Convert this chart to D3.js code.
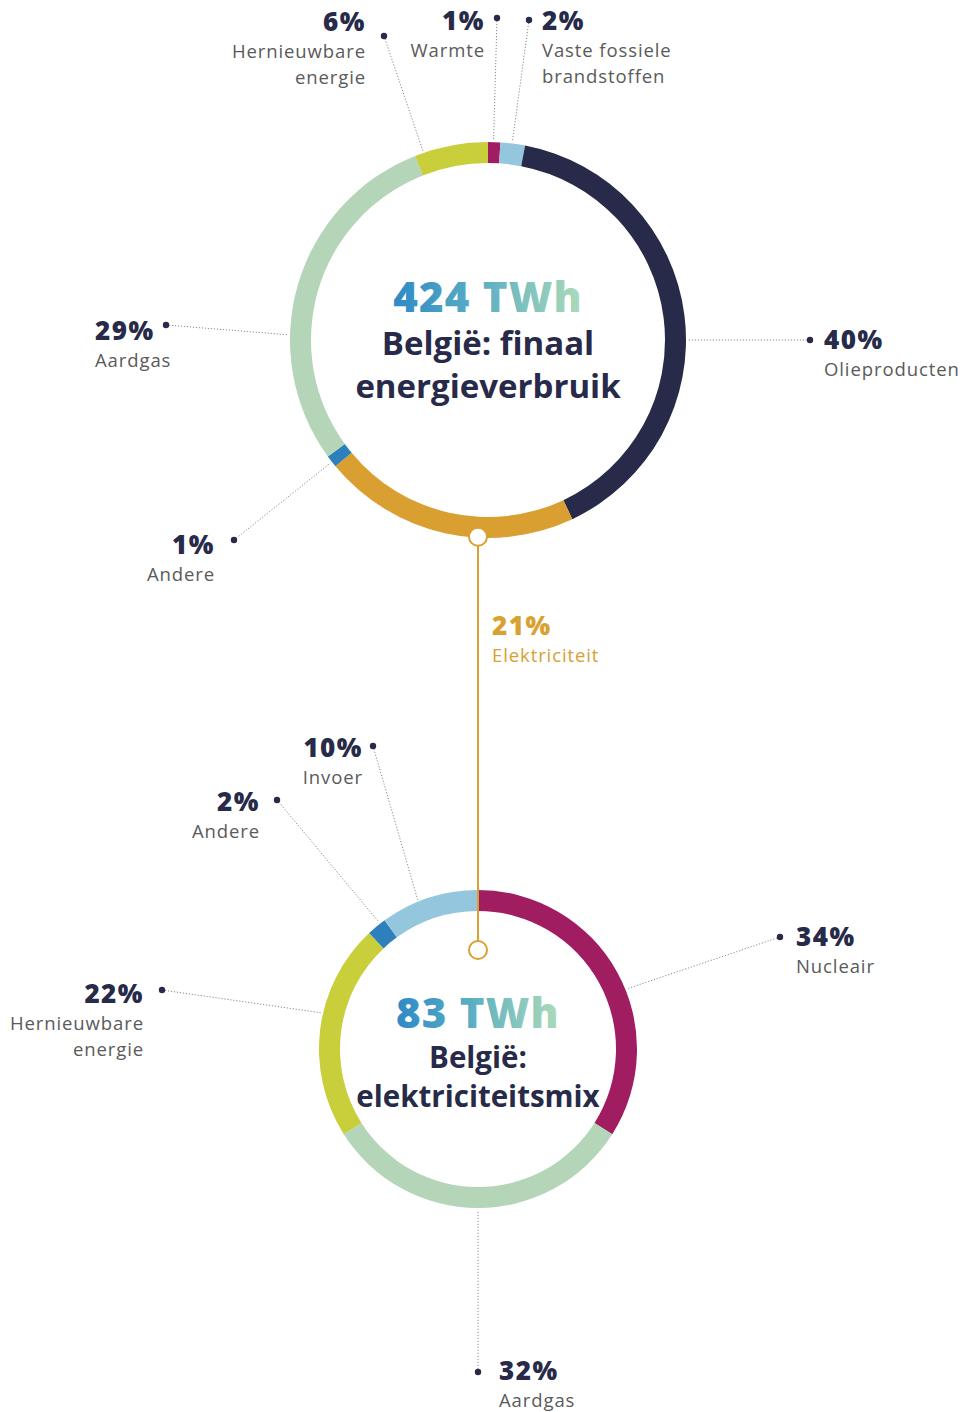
<!DOCTYPE html>
<html><head><meta charset="utf-8">
<script src="https://cdn.jsdelivr.net/npm/d3@7"></script>
<style>
html,body{margin:0;padding:0;background:#fff;}
svg{display:block;font-family:"Open Sans",Lato,sans-serif;}
</style></head>
<body>
<svg id="chart" width="967" height="1412"></svg>
<script>
// ---- data ----
const topCategories = ["Warmte","Vaste fossiele brandstoffen","Olieproducten","Elektriciteit","Andere","Aardgas","Hernieuwbare energie"];
const topValues = [1,2,40,21,1,29,6];
const topTotal = "424 TWh";
const topTitle = ["België: finaal","energieverbruik"];

const bottomCategories = ["Nucleair","Aardgas","Hernieuwbare energie","Andere","Invoer"];
const bottomValues = [34,32,22,2,10];
const bottomTotal = "83 TWh";
const bottomTitle = ["België:","elektriciteitsmix"];

// ---- styling / layout ----
const colorMap = {
  "Warmte":"#a11d62","Vaste fossiele brandstoffen":"#94c7dd","Olieproducten":"#272a48",
  "Elektriciteit":"#d99f31","Andere":"#2e80bd","Aardgas":"#b4d5b8",
  "Hernieuwbare energie":"#c8cf3a","Nucleair":"#a11d62","Invoer":"#94c7dd"
};
const navy = "#272a48", gray = "#5a5a5a", orange = "#d9a032";
const pctStyle = {size:26, ls:1.5}, lblStyle = {size:18.5, ls:0.9};

const svg = d3.select("#chart");
const defs = svg.append("defs");
const grad = defs.append("linearGradient").attr("id","twh").attr("x1","0%").attr("x2","100%");
grad.append("stop").attr("offset","0%").attr("stop-color","#2e8ac6");
grad.append("stop").attr("offset","45%").attr("stop-color","#5aaec3");
grad.append("stop").attr("offset","100%").attr("stop-color","#addab8");

const charts = [
  {cats:topCategories, vals:topValues, cx:488, cy:340, ro:198, ri:177, total:topTotal, title:topTitle,
   totalY:312, titleY:[355,398], totalSize:42, titleSize:33,
   labels:[
     {i:6, dot:[384,36], ang:341, anchor:"end", tx:366, ty:31, lines:["Hernieuwbare","energie"]},
     {i:0, dot:[497,18], ang:1.6, anchor:"end", tx:485, ty:30, lines:["Warmte"]},
     {i:1, dot:[529,20], ang:7, anchor:"start", tx:542, ty:30, lines:["Vaste fossiele","brandstoffen"]},
     {i:2, dot:[810,340], ang:90, anchor:"start", tx:824, ty:349, lines:["Olieproducten"]},
     {i:5, dot:[166,325], ang:271.5, anchor:"start", tx:95, ty:340, lines:["Aardgas"]},
     {i:4, dot:[234,540], ang:232, anchor:"end", tx:215, ty:554, lines:["Andere"]}
   ]},
  {cats:bottomCategories, vals:bottomValues, cx:478, cy:1049, ro:159, ri:138, total:bottomTotal, title:bottomTitle,
   totalY:1028, titleY:[1068,1107], totalSize:42, titleSize:29.5,
   labels:[
     {i:4, dot:[373,746], ang:338, anchor:"end", tx:363, ty:757, lines:["Invoer"]},
     {i:3, dot:[277,800], ang:322, anchor:"end", tx:260, ty:811, lines:["Andere"]},
     {i:2, dot:[162,990], ang:283, anchor:"end", tx:144, ty:1003, lines:["Hernieuwbare","energie"]},
     {i:0, dot:[780,937], ang:68, anchor:"start", tx:796, ty:946, lines:["Nucleair"]},
     {i:1, dot:[478,1372], ang:180, anchor:"start", tx:499, ty:1380, lines:["Aardgas"]}
   ]}
];

const pie = d3.pie().sort(null).value(d=>d);

charts.forEach(c=>{
  const g = svg.append("g");
  c.labels.forEach(l=>{
    const a = l.ang*Math.PI/180;
    const ex = c.cx + (c.ro+2)*Math.sin(a), ey = c.cy - (c.ro+2)*Math.cos(a);
    g.append("line").attr("x1",l.dot[0]).attr("y1",l.dot[1]).attr("x2",ex).attr("y2",ey)
      .attr("stroke","#8a8a8a").attr("stroke-width",1).attr("stroke-dasharray","1.2,1.8");
    g.append("circle").attr("cx",l.dot[0]).attr("cy",l.dot[1]).attr("r",3.2).attr("fill",navy);
    g.append("text").attr("text-anchor",l.anchor).attr("x",l.tx).attr("y",l.ty)
      .attr("font-size",pctStyle.size).attr("font-weight",800)
      .attr("letter-spacing",pctStyle.ls).attr("fill",navy).text(c.vals[l.i]+"%");
    const t = g.append("text").attr("text-anchor",l.anchor);
    l.lines.forEach((s,k)=>{
      t.append("tspan").attr("x",l.tx).attr("y",l.ty+27+26*k).attr("font-size",lblStyle.size)
        .attr("letter-spacing",lblStyle.ls).attr("fill",gray).text(s);
    });
  });
  const arc = d3.arc().innerRadius(c.ri).outerRadius(c.ro);
  g.append("g").attr("transform",`translate(${c.cx},${c.cy})`)
    .selectAll("path").data(pie(c.vals)).join("path")
    .attr("d",arc).attr("fill",(d,i)=>colorMap[c.cats[i]]);
  g.append("text").attr("x",c.cx).attr("y",c.totalY).attr("text-anchor","middle")
    .attr("font-size",c.totalSize).attr("font-weight",800).attr("letter-spacing",1.2)
    .attr("fill","url(#twh)").text(c.total);
  c.title.forEach((s,k)=>{
    g.append("text").attr("x",c.cx).attr("y",c.titleY[k]).attr("text-anchor","middle")
      .attr("font-size",c.titleSize).attr("font-weight",700).attr("fill",navy).text(s);
  });
});

// connector: Elektriciteit feeds the electricity mix
const cTop = charts[0], cBot = charts[1];
const elecIdx = topCategories.indexOf("Elektriciteit");
const jx = cBot.cx;
const jy1 = cTop.cy + Math.sqrt(cTop.ro**2 - (jx-cTop.cx)**2) - 1;
const jy2 = cBot.cy - 99;
svg.append("line").attr("x1",jx).attr("x2",jx).attr("y1",jy1).attr("y2",jy2)
  .attr("stroke",orange).attr("stroke-width",2);
[jy1,jy2].forEach(y=>svg.append("circle").attr("cx",jx).attr("cy",y).attr("r",9)
  .attr("fill","#fff").attr("stroke",orange).attr("stroke-width",2));
svg.append("text").attr("x",492).attr("y",635).attr("font-size",pctStyle.size).attr("font-weight",800)
  .attr("letter-spacing",pctStyle.ls).attr("fill",orange).text(topValues[elecIdx]+"%");
svg.append("text").attr("x",492).attr("y",662).attr("font-size",lblStyle.size)
  .attr("letter-spacing",lblStyle.ls).attr("fill",orange).text("Elektriciteit");
</script>
</body></html>
